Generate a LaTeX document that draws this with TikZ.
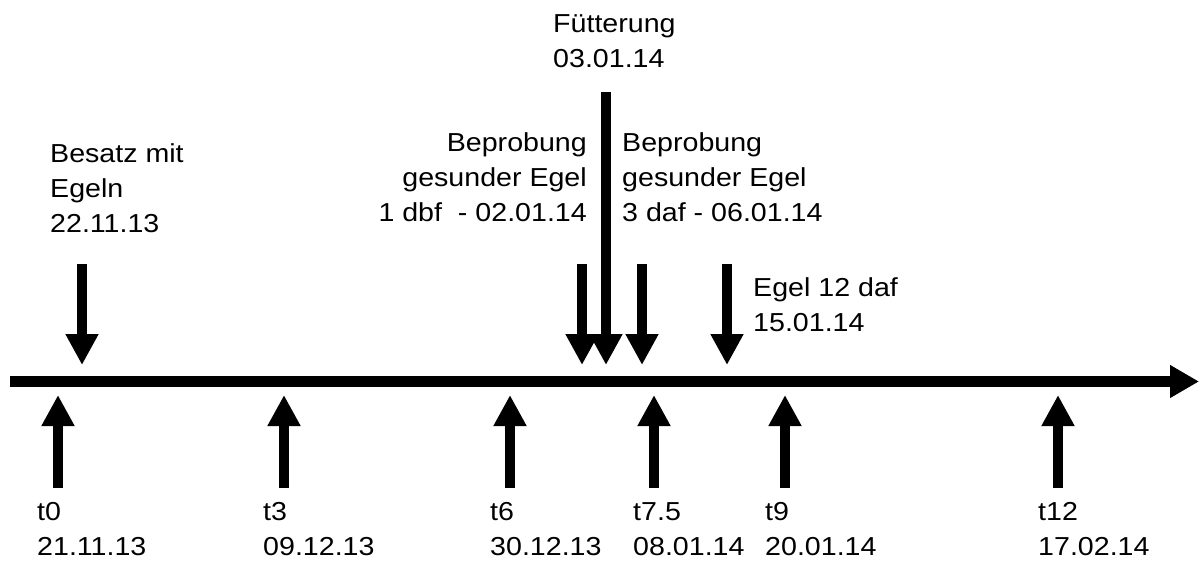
\documentclass[tikz,border=0pt]{standalone}
\usepackage{fontspec}
\setmainfont{Liberation Sans}[FakeStretch=1.1]
\usetikzlibrary{arrows.meta}
\begin{document}
\begin{tikzpicture}[x=1pt,y=-1pt,
  lbl/.style={inner sep=0pt,font=\fontsize{26}{35}\selectfont,align=left},
  lblr/.style={inner sep=0pt,font=\fontsize{26}{35}\selectfont,align=right},
  fat/.style={line width=10.5pt,-{Triangle[width=31pt,length=31pt]}},
  axis/.style={line width=11pt,-{Triangle[width=31pt,length=29pt]}}]
\useasboundingbox (0,0) rectangle (1199,560);
% axis
\coordinate (a0) at (10,381.5);
\coordinate (a1) at (1199,381.5);
\draw[axis] (a0) -- (a1);
% downward arrows
\coordinate (d1s) at (82,264);  \coordinate (d1e) at (82,365);
\coordinate (d2s) at (582,264); \coordinate (d2e) at (582,365);
\coordinate (d3s) at (606,92);  \coordinate (d3e) at (606,365);
\coordinate (d4s) at (642,264); \coordinate (d4e) at (642,365);
\coordinate (d5s) at (727,264); \coordinate (d5e) at (727,365);
\foreach \i in {1,...,5} \draw[fat] (d\i s) -- (d\i e);
% upward arrows
\foreach \n/\x in {u0/58,u3/284,u6/510,u75/654,u9/785,u12/1058}{
  \coordinate (\n s) at (\x,488); \coordinate (\n e) at (\x,395);
  \draw[fat] (\n s) -- (\n e);
}
% labels above (anchor = baseline of last line)
\node[lbl,anchor=base west] (besatz) at (50,232) {Besatz mit\\Egeln\\22.11.13};
\node[lbl,anchor=base west] (fuett) at (553,67) {Fütterung\\03.01.14};
\node[lblr,anchor=base east] (probe1) at (587,221) {Beprobung\\gesunder Egel\\1 dbf\ \ - 02.01.14};
\node[lbl,anchor=base west] (probe2) at (622,221) {Beprobung\\gesunder Egel\\3 daf - 06.01.14};
\node[lbl,anchor=base west] (egel12) at (753,331) {Egel 12 daf\\15.01.14};
% labels below
\node[lbl,anchor=base west] (t0) at (37,555) {t0\\21.11.13};
\node[lbl,anchor=base west] (t3) at (263,555) {t3\\09.12.13};
\node[lbl,anchor=base west] (t6) at (490,555) {t6\\30.12.13};
\node[lbl,anchor=base west] (t75) at (633,555) {t7.5\\08.01.14};
\node[lbl,anchor=base west] (t9) at (765,555) {t9\\20.01.14};
\node[lbl,anchor=base west] (t12) at (1038,555) {t12\\17.02.14};
\end{tikzpicture}
\end{document}
